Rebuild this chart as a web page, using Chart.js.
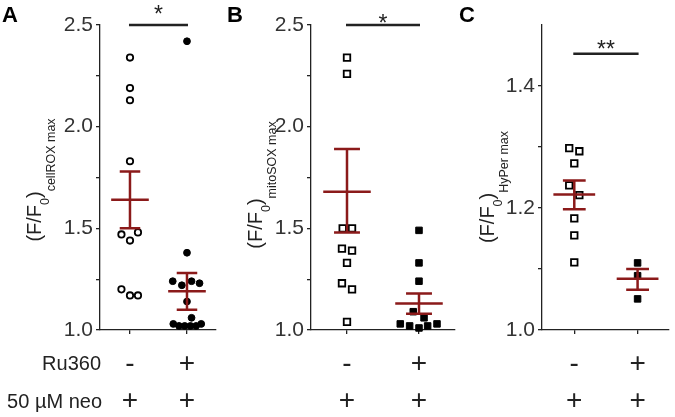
<!DOCTYPE html>
<html>
<head>
<meta charset="utf-8">
<script src="https://cdn.jsdelivr.net/npm/chart.js@4.4.1/dist/chart.umd.min.js"></script>
<style>
  html, body { margin: 0; padding: 0; background: #fff; }
  #wrap { position: relative; width: 675px; height: 417px; }
  #wrap canvas { position: absolute; left: 0; top: 0; }
</style>
</head>
<body>
<div id="wrap">
  <canvas id="pA" width="675" height="417"></canvas>
  <canvas id="pB" width="675" height="417"></canvas>
  <canvas id="pC" width="675" height="417"></canvas>
</div>
<script>
// ─── data ────────────────────────────────────────────────────────────────
const xCats = [1, 2];
const ru360Row = ['-', '+'];
const neoRow = ['+', '+'];
const rowNames = ['Ru360', '50 µM neo'];

// A: cellROX (open circles = no Ru360, filled = Ru360)
const aCtrlY = [2.34, 2.19, 2.13, 1.83, 1.47, 1.44, 1.48, 1.20, 1.17, 1.17];
const aCtrlX = [1, 1, 1, 1, 0.85, 1, 1.14, 0.85, 1, 1.14];
const aRuY = [2.42, 1.38, 1.24, 1.22, 1.24, 1.23, 1.14, 1.06, 1.03, 1.02, 1.02, 1.02, 1.02, 1.03];
const aRuX = [2, 2, 1.75, 1.91, 2.08, 2.22, 2, 2.08, 1.76, 1.86, 1.96, 2.06, 2.16, 2.25];
const aMean = [1.64, 1.19];
const aHi = [1.78, 1.28];
const aLo = [1.50, 1.10];

// B: mitoSOX (squares)
const bCtrlY = [2.34, 2.26, 1.50, 1.50, 1.40, 1.39, 1.33, 1.23, 1.20, 1.04];
const bCtrlX = [1, 1, 0.94, 1.07, 0.93, 1.07, 1, 0.93, 1.07, 1];
const bRuY = [1.49, 1.33, 1.24, 1.09, 1.06, 1.03, 1.02, 1.01, 1.02, 1.03];
const bRuX = [2, 2, 2, 1.92, 2.07, 1.74, 1.87, 2, 2.12, 2.25];
const bMean = [1.68, 1.13];
const bHi = [1.89, 1.18];
const bLo = [1.48, 1.08];

// C: HyPer (squares)
const cCtrlY = [1.298, 1.293, 1.273, 1.237, 1.221, 1.183, 1.155, 1.111];
const cCtrlX = [0.92, 1.08, 1, 0.92, 1.08, 1, 1, 1];
const cRuY = [1.11, 1.089, 1.051];
const cRuX = [2, 2, 2];
const cMean = [1.222, 1.084];
const cHi = [1.245, 1.10];
const cLo = [1.198, 1.066];

const abTicks = [1.0, 1.25, 1.5, 1.75, 2.0, 2.25, 2.5];
const abTickLabels = ['1.0', '', '1.5', '', '2.0', '', '2.5'];
const cTicks = [1.0, 1.1, 1.2, 1.3, 1.4];
const cTickLabels = ['1.0', '', '1.2', '', '1.4'];

const sigLevels = [2.5, 2.5, 1.453];
const sigMarks = ['*', '*', '**'];
const subTitles = ['cellROX max', 'mitoSOX max', 'HyPer max'];
const letters = ['A', 'B', 'C'];

const RED = '#8b1a1a';
const INK = '#222';
const FONT = '"Liberation Sans", Arial, sans-serif';

function drawTitle(ctx, bx, cy, sub) {
  const big = '20px ' + FONT, small = '12.5px ' + FONT;
  const parts = [['(F/F', big, 0], ['0', small, 8], [')', big, 0], [sub, small, 14]];
  ctx.save();
  let total = 0;
  parts.forEach(pt => { ctx.font = pt[1]; pt.push(ctx.measureText(pt[0]).width); total += pt[3]; });
  ctx.translate(bx, cy);
  ctx.rotate(-Math.PI / 2);
  ctx.fillStyle = INK;
  ctx.textBaseline = 'alphabetic';
  let pos = -total / 2;
  parts.forEach(pt => { ctx.font = pt[1]; ctx.fillText(pt[0], pos, pt[2]); pos += pt[3]; });
  ctx.restore();
}

function decor(p) {
  return {
    id: 'decor' + p.idx,
    afterDatasetsDraw(chart) {
      const { ctx, scales: { x, y } } = chart;
      const seg = (x0, x1, v0, v1) => {
        ctx.moveTo(x.getPixelForValue(x0), y.getPixelForValue(v0));
        ctx.lineTo(x.getPixelForValue(x1), y.getPixelForValue(v1));
      };
      ctx.save();
      ctx.strokeStyle = RED;
      ctx.lineWidth = 2.5;
      p.mean.forEach((m, i) => {
        const c = xCats[i];
        ctx.beginPath();
        seg(c, c, p.hi[i], p.lo[i]);
        seg(c - 0.18, c + 0.18, p.hi[i], p.hi[i]);
        seg(c - 0.18, c + 0.18, p.lo[i], p.lo[i]);
        seg(c - 0.33, c + 0.33, m, m);
        ctx.stroke();
      });
      ctx.restore();
    },
    afterDraw(chart) {
      const { ctx, scales: { x, y } } = chart;
      const i = p.idx;
      ctx.save();
      // significance bar
      const sy = y.getPixelForValue(sigLevels[i]);
      const x0 = x.getPixelForValue(xCats[0]) - 1, x1 = x.getPixelForValue(xCats[1]) + 1;
      ctx.strokeStyle = INK;
      ctx.lineWidth = 2.5;
      ctx.beginPath(); ctx.moveTo(x0, sy); ctx.lineTo(x1, sy); ctx.stroke();
      ctx.fillStyle = INK;
      ctx.font = '23px ' + FONT;
      ctx.textAlign = 'center';
      ctx.textBaseline = 'alphabetic';
      ctx.fillText(sigMarks[i], (x0 + x1) / 2, sy - p.starGap + 13);

      // panel letter
      ctx.font = 'bold 22px ' + FONT;
      ctx.textAlign = 'left';
      ctx.fillStyle = '#000';
      ctx.fillText(letters[i], p.letterX, 22);

      // y title
      drawTitle(ctx, p.titleX, p.titleY, subTitles[i]);

      // treatment rows
      ctx.fillStyle = INK;
      ctx.textAlign = 'center';
      ctx.font = '28px ' + FONT;
      xCats.forEach((c, k) => {
        const px = x.getPixelForValue(c);
        ctx.fillText(ru360Row[k], px, 372);
        ctx.fillText(neoRow[k], px, 409);
      });
      if (i === 0) {
        ctx.textAlign = 'right';
        ctx.font = '20px ' + FONT;
        ctx.fillText(rowNames[0], 101, 370);
        ctx.fillText(rowNames[1], 102, 408);
      }
      ctx.restore();
    }
  };
}

function makePanel(id, p) {
  const pts = (ys, xs) => ys.map((v, k) => ({ x: xs[k], y: v }));
  return new Chart(document.getElementById(id), {
    type: 'scatter',
    data: {
      datasets: [
        { data: pts(p.ctrlY, p.ctrlX), pointStyle: p.shape, pointRadius: p.r,
          borderColor: '#000', backgroundColor: '#fff', borderWidth: 1.8, clip: false },
        { data: pts(p.ruY, p.ruX), pointStyle: p.shape, pointRadius: p.rf,
          borderColor: '#000', backgroundColor: '#000', borderWidth: 1, clip: false }
      ]
    },
    options: {
      responsive: false,
      animation: false,
      events: [],
      layout: { padding: { left: p.padL, right: p.padR, top: 25, bottom: 0 } },
      plugins: { legend: { display: false }, tooltip: { enabled: false } },
      scales: {
        x: {
          type: 'linear', min: p.xMin, max: p.xMax,
          afterBuildTicks: s => { s.ticks = xCats.map(v => ({ value: v })); },
          afterFit: s => { s.height = 87; },
          ticks: { display: false },
          grid: { drawOnChartArea: false, drawTicks: true, tickLength: 4, color: INK, lineWidth: 1.3 },
          border: { color: INK, width: 1.3 }
        },
        y: {
          type: 'linear', min: p.yMin, max: p.yMax,
          afterBuildTicks: s => { s.ticks = p.yTicks.map(v => ({ value: v })); },
          afterFit: s => { s.width = p.yW; },
          ticks: {
            autoSkip: false, padding: 3, color: '#333',
            font: { family: FONT, size: 21 },
            callback: (v, k) => p.yLabels[k]
          },
          grid: { drawOnChartArea: false, drawTicks: true, tickLength: 4, color: INK, lineWidth: 1.3 },
          border: { color: INK, width: 1.3 }
        }
      }
    },
    plugins: [decor(p)]
  });
}

makePanel('pA', {
  idx: 0, ctrlY: aCtrlY, ctrlX: aCtrlX, ruY: aRuY, ruX: aRuX,
  mean: aMean, hi: aHi, lo: aLo, shape: 'circle', r: 3.2, rf: 3.4,
  padL: 0, padR: 459, yW: 100, xMin: 0.474, xMax: 2.509,
  yMin: 1.0, yMax: 2.5, yTicks: abTicks, yLabels: abTickLabels,
  starGap: 16, letterX: 2, titleX: 41, titleY: 180
});
makePanel('pB', {
  idx: 1, ctrlY: bCtrlY, ctrlX: bCtrlX, ruY: bRuY, ruX: bRuX,
  mean: bMean, hi: bHi, lo: bLo, shape: 'rect', r: 4.6, rf: 4.6,
  padL: 225, padR: 220, yW: 86, xMin: 0.5, xMax: 2.5,
  yMin: 1.0, yMax: 2.5, yTicks: abTicks, yLabels: abTickLabels,
  starGap: 7.5, letterX: 227, titleX: 262, titleY: 185
});
makePanel('pC', {
  idx: 2, ctrlY: cCtrlY, ctrlX: cCtrlX, ruY: cRuY, ruX: cRuX,
  mean: cMean, hi: cHi, lo: cLo, shape: 'rect', r: 4.6, rf: 4.6,
  padL: 450, padR: 3, yW: 92, xMin: 0.49, xMax: 2.49,
  yMin: 1.0, yMax: 1.5, yTicks: cTicks, yLabels: cTickLabels,
  starGap: 10, letterX: 459, titleX: 494, titleY: 187
});
</script>
</body>
</html>
